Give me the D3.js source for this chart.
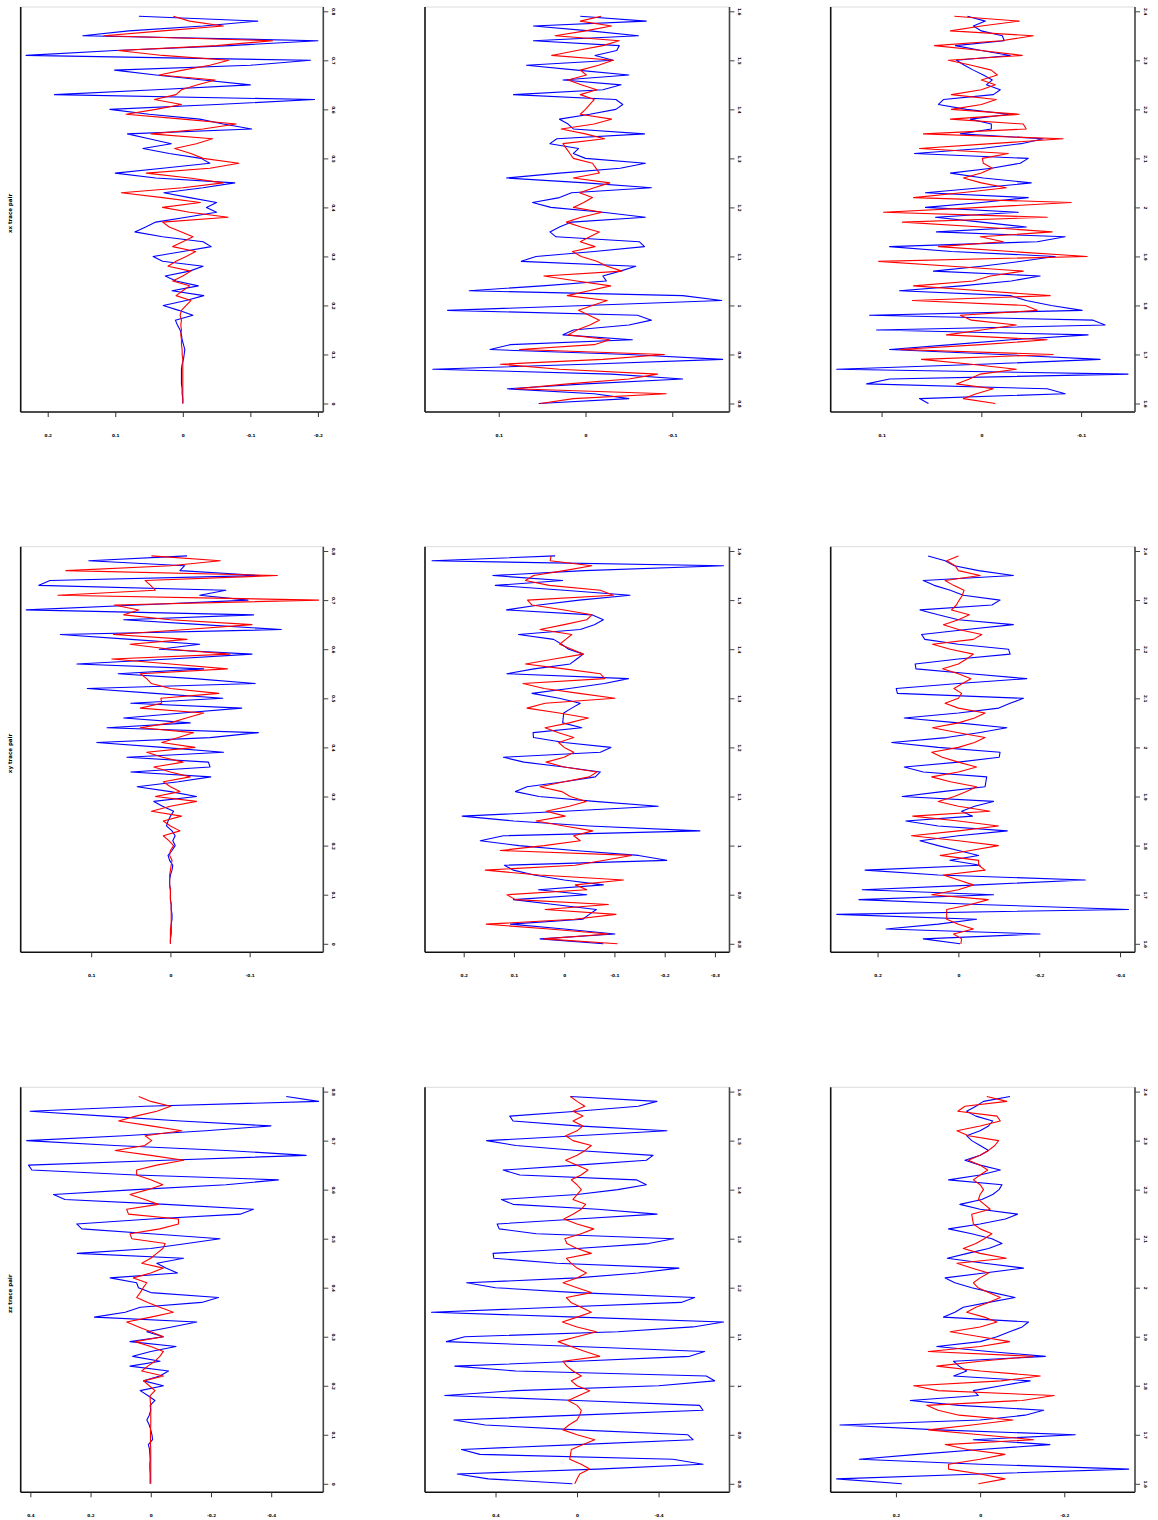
<!DOCTYPE html>
<html>
<head>
<meta charset="utf-8">
<script src="https://cdn.jsdelivr.net/npm/d3@7"></script>
<style>
  body { margin: 0; background: #fff; }
  text { font-family: "DejaVu Sans", sans-serif; font-weight: bold; }
</style>
</head>
<body>
<script>
// row labels, time windows of the three columns
const rowLabels = ["xx trace pair", "xy trace pair", "zz trace pair"];
const timeStarts = [0, 0.8, 1.6];
const sampleStep = 0.01;

// time ticks (right axis) per column
const timeTicks = [
  [0, 0.1, 0.2, 0.3, 0.4, 0.5, 0.6, 0.7, 0.8],
  [0.8, 0.9, 1, 1.1, 1.2, 1.3, 1.4, 1.5, 1.6],
  [1.6, 1.7, 1.8, 1.9, 2, 2.1, 2.2, 2.3, 2.4]
];

// amplitude ticks (bottom axis) per panel, row by row
const ampTicks = [
  [0.2, 0.1, 0, -0.1, -0.2], [0.1, 0, -0.1], [0.1, 0, -0.1],
  [0.1, 0, -0.1], [0.2, 0.1, 0, -0.1, -0.2, -0.3], [0.2, 0, -0.2, -0.4],
  [0.4, 0.2, 0, -0.2, -0.4], [0.4, 0, -0.4], [0.2, 0, -0.2]
];

// amplitude axis limits (left edge, right edge) per panel
const ampLimits = [
  [0.240, -0.208], [0.185, -0.166], [0.151, -0.154],
  [0.189, -0.193], [0.277, -0.329], [0.316, -0.437],
  [0.432, -0.573], [0.746, -0.748], [0.355, -0.368]
];

// blue traces
const b1 = [0, 0, 0.001, 0.001, 0.002, 0.002, 0.002, 0.002, 0.001, -0.001,
  -0.002, -0.003, -0.001, 0.001, 0.002, 0.004, 0.008, 0.011, -0.015, 0.006,
  0.029, -0.005, -0.031, 0.016, -0.023, 0.010, 0.026, -0.010, -0.030, 0.030,
  0.044, 0.000, -0.042, -0.030, 0.030, 0.071, 0.055, 0.040, -0.005, -0.050,
  -0.035, -0.050, -0.010, 0.028, -0.030, -0.077, 0.040, 0.100, 0.030, -0.040,
  -0.027, 0.020, 0.059, 0.017, 0.050, 0.082, -0.102, -0.060, -0.025, 0.050,
  0.108, -0.050, -0.195, 0.190, 0.040, -0.100, -0.030, 0.040, 0.101, -0.100,
  -0.189, 0.232, 0.100, -0.070, -0.200, 0.148, 0.080, -0.030, -0.111, 0.065];
const b2 = [0.054, -0.050, -0.010, 0.090, 0.000, -0.112, -0.030, 0.176, 0.000, -0.158,
  -0.050, 0.110, 0.087, -0.054, 0.026, 0.014, -0.050, -0.076, -0.060, 0.159,
  0.000, -0.157, -0.112, 0.134, 0.050, -0.024, -0.020, -0.040, -0.058, 0.074,
  0.057, -0.010, -0.068, -0.062, 0.034, 0.041, 0.030, 0.016, -0.069, -0.020,
  0.040, 0.061, 0.030, 0.016, -0.076, 0.000, 0.091, 0.030, -0.040, -0.069,
  0.000, 0.014, 0.008, 0.041, 0.033, -0.068, 0.014, 0.020, 0.030, -0.005,
  -0.035, -0.043, -0.035, 0.083, -0.020, -0.041, 0.026, -0.050, 0.010, 0.068,
  -0.032, -0.011, -0.036, -0.039, 0.060, -0.061, -0.005, 0.060, -0.070, 0.006];
const b3 = [0.053, 0.062, -0.084, -0.066, 0.115, 0.092, -0.147, 0.145, 0.000, -0.119,
  -0.020, 0.092, 0.030, -0.030, -0.107, 0.105, -0.124, -0.112, 0.112, -0.101,
  -0.070, -0.045, -0.029, 0.082, 0.020, -0.030, -0.059, 0.048, 0.000, -0.040,
  -0.074, 0.030, 0.092, -0.056, -0.084, 0.045, -0.045, 0.000, 0.046, -0.037,
  0.056, 0.000, -0.047, 0.056, 0.000, -0.050, -0.002, 0.031, -0.010, -0.039,
  -0.047, 0.067, 0.000, -0.040, -0.062, 0.021, -0.010, -0.010, 0.011, -0.028,
  0.015, 0.043, 0.038, -0.012, -0.019, -0.005, -0.011, -0.002, 0.008, 0.017,
  0.025, -0.029, 0.000, 0.026, -0.023, -0.021, 0.000, 0.008, -0.004, 0.014];
const b4 = [0, 0, -0.001, -0.001, -0.001, -0.002, -0.002, -0.001, -0.001, 0,
  0, 0, 0.001, 0.001, 0, -0.002, -0.003, 0.001, 0.003, -0.002,
  -0.006, -0.003, -0.006, -0.002, 0.005, 0.003, 0.000, -0.004, 0.010, 0.021,
  -0.033, 0.000, 0.042, -0.010, -0.051, 0.050, -0.050, -0.048, 0.055, -0.067,
  0.010, 0.093, -0.050, -0.111, 0.080, -0.025, 0.059, -0.015, -0.090, 0.050,
  -0.066, 0.020, 0.105, -0.107, -0.030, 0.066, -0.042, 0.118, 0.000, -0.103,
  0.014, -0.037, 0.050, 0.139, -0.140, -0.040, 0.059, -0.105, 0.182, 0.040,
  -0.098, -0.037, -0.070, 0.166, 0.152, -0.113, -0.012, -0.018, 0.103, -0.021];
const b5 = [-0.078, 0.048, -0.101, 0.000, 0.107, -0.037, -0.050, -0.064, 0.020, 0.101,
  -0.045, 0.051, -0.078, 0.000, 0.060, 0.101, 0.119, -0.204, -0.148, -0.020,
  0.090, 0.167, 0.121, -0.270, -0.050, 0.100, 0.203, 0.000, -0.187, -0.060,
  0.050, 0.097, 0.074, 0.000, -0.062, -0.072, 0.000, 0.080, 0.121, -0.072,
  -0.093, 0.000, 0.061, 0.062, -0.035, 0.003, 0.002, 0.001, -0.015, -0.032,
  0.010, 0.064, -0.010, -0.080, -0.128, 0.114, 0.060, -0.012, -0.025, -0.038,
  -0.009, 0.005, 0.021, 0.091, -0.032, -0.060, -0.078, -0.055, 0.115, 0.050,
  -0.030, -0.131, 0.000, 0.137, 0.003, 0.142, -0.040, -0.317, 0.263, 0.018];
const b6 = [-0.004, 0.087, -0.202, 0.179, 0.050, -0.045, 0.301, -0.421, -0.050, 0.246,
  -0.087, 0.238, -0.050, -0.314, 0.050, 0.231, -0.054, 0.021, -0.050, 0.000,
  0.050, 0.095, 0.000, -0.121, 0.050, 0.130, -0.035, -0.008, -0.040, -0.087,
  0.139, 0.040, -0.066, -0.068, -0.070, 0.087, 0.134, 0.000, -0.101, -0.103,
  0.050, 0.165, 0.030, -0.050, -0.120, 0.000, 0.134, 0.000, -0.100, -0.128,
  -0.161, 0.151, 0.154, 0.000, -0.169, -0.030, 0.105, 0.107, 0.000, -0.128,
  -0.124, 0.000, 0.083, 0.091, -0.020, -0.136, 0.000, 0.050, 0.095, -0.083,
  -0.103, -0.012, 0.020, 0.060, 0.087, -0.136, -0.050, 0.010, 0.033, 0.075];
const b7 = [0.002, 0.002, 0.002, 0.003, 0.003, 0.002, 0.003, 0.004, 0.008, -0.006,
  -0.004, 0.000, 0.005, 0.013, 0.005, 0.000, 0.002, -0.014, 0.010, 0.035,
  -0.042, 0.024, -0.030, -0.059, 0.069, -0.031, 0.060, 0.000, -0.084, 0.069,
  -0.042, 0.013, -0.070, -0.153, 0.187, 0.085, 0.035, -0.169, -0.225, 0.000,
  0.041, 0.047, 0.135, -0.089, -0.050, -0.020, -0.109, 0.244, 0.000, -0.120,
  -0.230, 0.000, 0.229, 0.246, 0.000, -0.297, -0.341, -0.050, 0.285, 0.323,
  0.050, -0.250, -0.424, 0.050, 0.395, 0.406, -0.050, -0.516, -0.250, 0.120,
  0.412, 0.088, -0.183, -0.399, -0.100, 0.150, 0.401, 0.018, -0.557, -0.450];
const b8 = [0.023, 0.436, 0.588, -0.100, -0.618, -0.470, 0.477, 0.567, 0.000, -0.569,
  -0.544, 0.000, 0.450, 0.605, 0.000, -0.618, -0.601, 0.000, 0.649, 0.300,
  -0.400, -0.675, -0.634, 0.300, 0.600, 0.000, -0.552, -0.626, 0.000, 0.641,
  0.551, -0.200, -0.569, -0.719, 0.000, 0.714, 0.100, -0.511, -0.577, 0.000,
  0.400, 0.542, 0.000, -0.300, -0.500, 0.100, 0.408, 0.412, 0.000, -0.350,
  -0.474, 0.200, 0.382, 0.392, 0.000, -0.392, -0.100, 0.314, 0.371, 0.000,
  -0.200, -0.340, -0.291, 0.281, 0.363, 0.000, -0.340, -0.373, 0.000, 0.300,
  0.444, 0.000, -0.441, 0.000, 0.314, 0.330, 0.000, -0.300, -0.392, 0.033];
const b9 = [0.186, 0.341, 0.000, -0.353, 0.000, 0.287, 0.150, 0.000, -0.166, 0.016,
  -0.226, 0.100, 0.333, 0.000, -0.107, -0.151, 0.050, 0.166, 0.004, 0.016,
  -0.050, -0.119, 0.063, 0.032, 0.050, 0.063, -0.155, -0.020, 0.103, 0.000,
  -0.040, -0.070, -0.100, -0.115, 0.087, 0.060, 0.040, -0.020, -0.083, -0.030,
  0.020, 0.060, 0.083, -0.010, -0.103, -0.010, 0.078, 0.030, -0.020, -0.052,
  -0.028, 0.020, 0.075, 0.000, -0.060, -0.089, 0.000, 0.048, -0.004, -0.030,
  -0.045, -0.052, 0.075, 0.000, -0.048, 0.000, 0.036, 0.000, -0.020, 0.000,
  0.020, 0.032, 0.000, -0.020, -0.030, 0.010, 0.032, 0.010, -0.008, -0.071];

// red traces
const r1 = [0, 0, 0, 0, 0, 0, 0, 0, 0, 0,
  0.001, 0.001, 0.002, 0.002, 0.003, 0.002, 0.003, 0.002, 0.004, 0.002,
  -0.005, -0.012, 0.010, 0.000, -0.010, 0.015, 0.000, -0.012, 0.022, 0.010,
  -0.005, -0.019, 0.015, 0.000, -0.015, 0.002, 0.020, 0.030, -0.067, -0.010,
  0.030, -0.026, 0.030, 0.091, 0.000, -0.060, -0.010, 0.054, -0.040, -0.083,
  -0.030, -0.012, 0.012, -0.020, -0.044, 0.047, -0.030, -0.079, 0.000, 0.084,
  0.040, 0.002, 0.042, 0.010, 0.002, -0.022, -0.048, 0.035, 0.000, -0.040,
  -0.068, 0.030, 0.096, -0.050, -0.133, 0.117, 0.030, -0.060, -0.010, 0.014];
const r2 = [0.052, 0.014, -0.093, 0.081, 0.020, -0.050, -0.083, 0.030, 0.098, -0.020,
  -0.091, 0.076, -0.010, -0.028, 0.020, 0.010, -0.005, -0.016, -0.004, 0.008,
  -0.008, -0.025, 0.021, -0.004, -0.029, 0.010, 0.048, -0.042, -0.025, -0.013,
  0.005, 0.015, -0.011, 0.006, -0.005, -0.016, 0.005, 0.022, 0.005, -0.019,
  0.014, 0.002, -0.008, 0.007, -0.010, -0.028, 0.014, -0.016, -0.012, -0.008,
  0.014, 0.018, 0.022, 0.026, -0.022, 0.000, 0.028, -0.010, -0.030, 0.006,
  0.000, -0.005, -0.010, 0.006, -0.013, 0.005, 0.020, -0.001, 0.006, -0.015,
  -0.032, 0.039, 0.010, -0.020, -0.039, 0.035, 0.000, -0.030, 0.006, -0.018];
const r3 = [-0.014, 0.018, 0.005, -0.012, 0.025, 0.012, 0.001, -0.035, 0.010, 0.060,
  -0.072, 0.082, 0.000, -0.066, 0.035, 0.000, -0.035, 0.010, 0.021, -0.056,
  -0.044, 0.069, -0.069, 0.000, 0.068, 0.008, -0.009, -0.042, 0.030, 0.103,
  -0.106, -0.030, 0.043, -0.022, 0.001, -0.071, 0.000, 0.079, -0.066, 0.098,
  0.000, -0.090, 0.068, 0.020, -0.025, 0.000, 0.018, 0.000, -0.011, -0.002,
  -0.001, -0.027, 0.062, -0.010, -0.082, 0.058, -0.045, -0.042, 0.031, -0.038,
  0.030, 0.000, -0.015, 0.030, 0.000, -0.014, 0.000, -0.016, -0.010, 0.010,
  0.033, -0.041, 0.000, 0.047, -0.020, -0.052, 0.031, 0.000, -0.038, 0.027];
const r4 = [0, 0, 0, 0, -0.001, -0.001, -0.001, -0.001, -0.001, 0,
  0, 0, 0.001, 0.001, 0.001, 0, -0.001, -0.002, 0.001, 0.000,
  -0.004, 0.002, 0.009, -0.012, 0.000, 0.009, -0.014, 0.024, 0.000, -0.033,
  0.019, -0.012, 0.000, 0.009, -0.025, 0.000, 0.021, -0.016, 0.010, 0.030,
  -0.031, 0.011, -0.010, -0.029, 0.038, 0.000, -0.020, -0.042, 0.038, 0.011,
  0.012, -0.061, 0.000, 0.024, 0.030, 0.038, -0.072, 0.000, 0.074, -0.075,
  0.000, 0.051, -0.021, 0.072, -0.020, -0.103, 0.000, 0.059, 0.040, 0.071,
  -0.187, 0.142, 0.019, 0.025, 0.032, -0.135, 0.132, 0.000, -0.063, 0.024];
const r5 = [-0.106, 0.040, -0.088, 0.030, 0.155, -0.020, -0.103, 0.038, -0.088, 0.097,
  0.114, -0.045, -0.022, -0.118, 0.050, 0.157, -0.022, -0.080, -0.134, 0.127,
  0.040, -0.032, -0.019, -0.057, 0.000, 0.056, -0.002, 0.036, -0.010, -0.044,
  -0.012, 0.005, 0.048, 0.000, -0.050, -0.065, 0.000, 0.036, 0.000, -0.019,
  0.000, 0.011, -0.019, 0.011, 0.038, -0.010, -0.048, 0.010, 0.074, 0.038,
  -0.101, -0.030, 0.040, 0.082, -0.081, -0.072, 0.000, 0.077, 0.020, -0.038,
  -0.015, 0.009, -0.003, -0.015, 0.048, 0.000, -0.045, -0.055, 0.000, 0.064,
  0.073, -0.098, -0.072, 0.030, 0.077, 0.061, 0.000, -0.055, 0.028, 0.026];
const r6 = [-0.006, -0.008, 0.012, -0.037, 0.000, 0.029, 0.029, 0.029, -0.030, -0.074,
  0.066, 0.000, -0.037, 0.000, 0.037, -0.066, -0.050, -0.050, 0.045, -0.030,
  -0.099, 0.000, 0.116, 0.000, -0.099, 0.000, 0.113, -0.078, 0.000, 0.050,
  0.010, -0.020, -0.045, 0.020, 0.066, 0.000, -0.045, 0.000, 0.040, 0.066,
  0.000, -0.040, -0.066, 0.000, 0.064, 0.000, -0.040, -0.066, 0.000, 0.033,
  0.000, -0.008, 0.011, -0.010, -0.031, 0.000, 0.039, 0.000, -0.020, -0.037,
  0.020, 0.064, -0.037, -0.058, 0.000, 0.037, 0.000, -0.027, 0.017, 0.005,
  -0.002, -0.010, -0.014, 0.012, 0.033, -0.054, 0.000, 0.008, 0.029, 0.000];
const r7 = [0, 0, 0, 0, 0, 0, 0, 0, 0.001, 0.001,
  0.001, 0.001, 0, 0, 0, 0, 0, 0.002, 0.002, -0.014,
  0.005, 0.024, -0.042, 0.030, 0.010, -0.014, -0.030, -0.042, 0.000, 0.052,
  -0.042, 0.000, 0.040, 0.080, 0.000, -0.075, -0.030, 0.010, 0.047, 0.035,
  0.025, 0.013, 0.058, 0.000, -0.042, 0.030, 0.000, -0.020, -0.040, -0.048,
  0.063, 0.069, -0.030, -0.092, -0.092, 0.074, 0.080, -0.025, 0.020, 0.069,
  0.010, -0.040, 0.000, 0.047, 0.047, -0.020, -0.109, 0.000, 0.118, 0.020,
  -0.003, 0.019, -0.103, 0.000, 0.107, 0.050, -0.020, -0.066, 0.000, 0.040];
const r8 = [0.011, 0.000, -0.013, -0.062, -0.020, 0.036, 0.032, 0.028, -0.030, -0.087,
  0.000, 0.069, 0.040, 0.000, -0.013, -0.021, 0.000, 0.044, -0.010, -0.062,
  0.000, 0.028, -0.021, 0.020, 0.050, 0.069, -0.111, -0.040, 0.030, 0.093,
  0.000, -0.095, 0.000, 0.072, 0.000, -0.070, -0.020, 0.030, 0.052, -0.070,
  0.000, 0.069, 0.000, -0.046, 0.000, 0.030, 0.052, -0.070, 0.000, 0.050,
  0.060, -0.020, -0.082, 0.000, 0.065, 0.020, -0.020, -0.042, 0.020, 0.000,
  -0.021, 0.000, 0.028, -0.020, -0.054, 0.000, 0.056, 0.000, -0.040, -0.070,
  0.020, 0.056, 0.000, -0.029, 0.020, -0.029, 0.020, -0.038, 0.000, 0.033];
const r9 = [0.004, -0.059, 0.000, 0.075, 0.075, 0.000, -0.059, 0.030, 0.083, -0.127,
  0.000, 0.123, 0.020, -0.078, 0.050, 0.100, 0.127, -0.100, -0.176, 0.100,
  0.158, -0.050, -0.143, 0.000, 0.103, 0.000, -0.127, 0.123, 0.000, -0.070,
  0.000, 0.071, 0.000, -0.040, -0.010, 0.032, 0.010, -0.020, -0.048, -0.020,
  0.005, 0.016, 0.000, -0.020, 0.020, 0.055, -0.062, 0.000, 0.040, 0.010,
  -0.010, -0.028, 0.000, 0.016, 0.018, 0.020, -0.024, -0.010, 0.004, 0.000,
  -0.008, 0.000, 0.016, 0.000, -0.018, 0.000, 0.028, 0.000, -0.020, -0.035,
  -0.044, 0.028, 0.055, 0.000, -0.048, -0.040, 0.053, 0.036, -0.063, -0.016];

const blueTraces = [b1, b2, b3, b4, b5, b6, b7, b8, b9];
const redTraces = [r1, r2, r3, r4, r5, r6, r7, r8, r9];

// layout
const W = 1158, H = 1520;
const colLeft = [20.7, 425, 830.7], colRight = [323.3, 729.5, 1135];
const rowTop = [7, 546.7, 1087.3], rowBottom = [412, 952.3, 1492.3];

const svg = d3.select("body").append("svg")
  .attr("width", W)
  .attr("height", H);

for (let i = 0; i < 9; i++) {
  const row = Math.floor(i / 3), col = i % 3;
  const left = colLeft[col], right = colRight[col];
  const top = rowTop[row], bottom = rowBottom[row];
  const t0 = timeStarts[col];

  const x = d3.scaleLinear().domain(ampLimits[i]).range([left, right]);
  const y = d3.scaleLinear().domain([t0, t0 + 0.8]).range([bottom - 8.5, top + 4.3]);

  const g = svg.append("g");

  // frame: faint top, black left
  g.append("line")
    .attr("x1", left).attr("x2", right).attr("y1", top).attr("y2", top)
    .attr("stroke", "#dcdcdc").attr("stroke-width", 1);
  g.append("line")
    .attr("x1", left).attr("x2", left).attr("y1", top).attr("y2", bottom)
    .attr("stroke", "#111").attr("stroke-width", 1.6);

  const line = d3.line()
    .x(d => x(d.v))
    .y(d => y(d.t));

  const toPoints = arr => arr.map((v, k) => ({ t: t0 + k * sampleStep, v: v }));

  g.append("path")
    .attr("d", line(toPoints(blueTraces[i])))
    .attr("fill", "none")
    .attr("stroke", "#0000ff")
    .attr("stroke-width", 1.1)
    .attr("stroke-linejoin", "round");

  g.append("path")
    .attr("d", line(toPoints(redTraces[i])))
    .attr("fill", "none")
    .attr("stroke", "#ff0000")
    .attr("stroke-width", 1.1)
    .attr("stroke-linejoin", "round");

  // bottom amplitude axis
  const xAxis = g.append("g")
    .attr("transform", `translate(0,${bottom})`)
    .call(d3.axisBottom(x).tickValues(ampTicks[i]).tickSize(5).tickSizeOuter(0)
      .tickPadding(17).tickFormat(d => String(d)));
  xAxis.select(".domain").attr("stroke", "#111").attr("stroke-width", 1.6)
    .attr("d", `M${left},0H${right}`);
  xAxis.selectAll(".tick line").attr("stroke", "#333");
  xAxis.selectAll("text").attr("font-size", 4.2).attr("fill", "#000")
    .style("font-family", "DejaVu Sans").style("font-weight", "bold");

  // right time axis
  const yAxis = g.append("g")
    .attr("transform", `translate(${right},0)`)
    .call(d3.axisRight(y).tickValues(timeTicks[col]).tickSize(5).tickSizeOuter(0)
      .tickFormat(d => String(d)));
  yAxis.select(".domain").attr("stroke", "#444").attr("stroke-width", 1.6)
    .attr("d", `M0,${top}V${bottom}`);
  yAxis.selectAll(".tick line").attr("stroke", "#444");
  yAxis.selectAll("text")
    .attr("x", null).attr("dy", null)
    .attr("transform", "translate(10,0) rotate(90)")
    .attr("text-anchor", "middle")
    .attr("dominant-baseline", "central")
    .attr("font-size", 4.2).attr("fill", "#000")
    .style("font-family", "DejaVu Sans").style("font-weight", "bold");

  if (col === 0) {
    const cy = (top + bottom) / 2 + 4;
    svg.append("text")
      .attr("transform", `translate(10,${cy}) rotate(-90)`)
      .attr("text-anchor", "middle")
      .attr("dominant-baseline", "central")
      .attr("font-size", 5.5)
      .text(rowLabels[row]);
  }
}
</script>
</body>
</html>
